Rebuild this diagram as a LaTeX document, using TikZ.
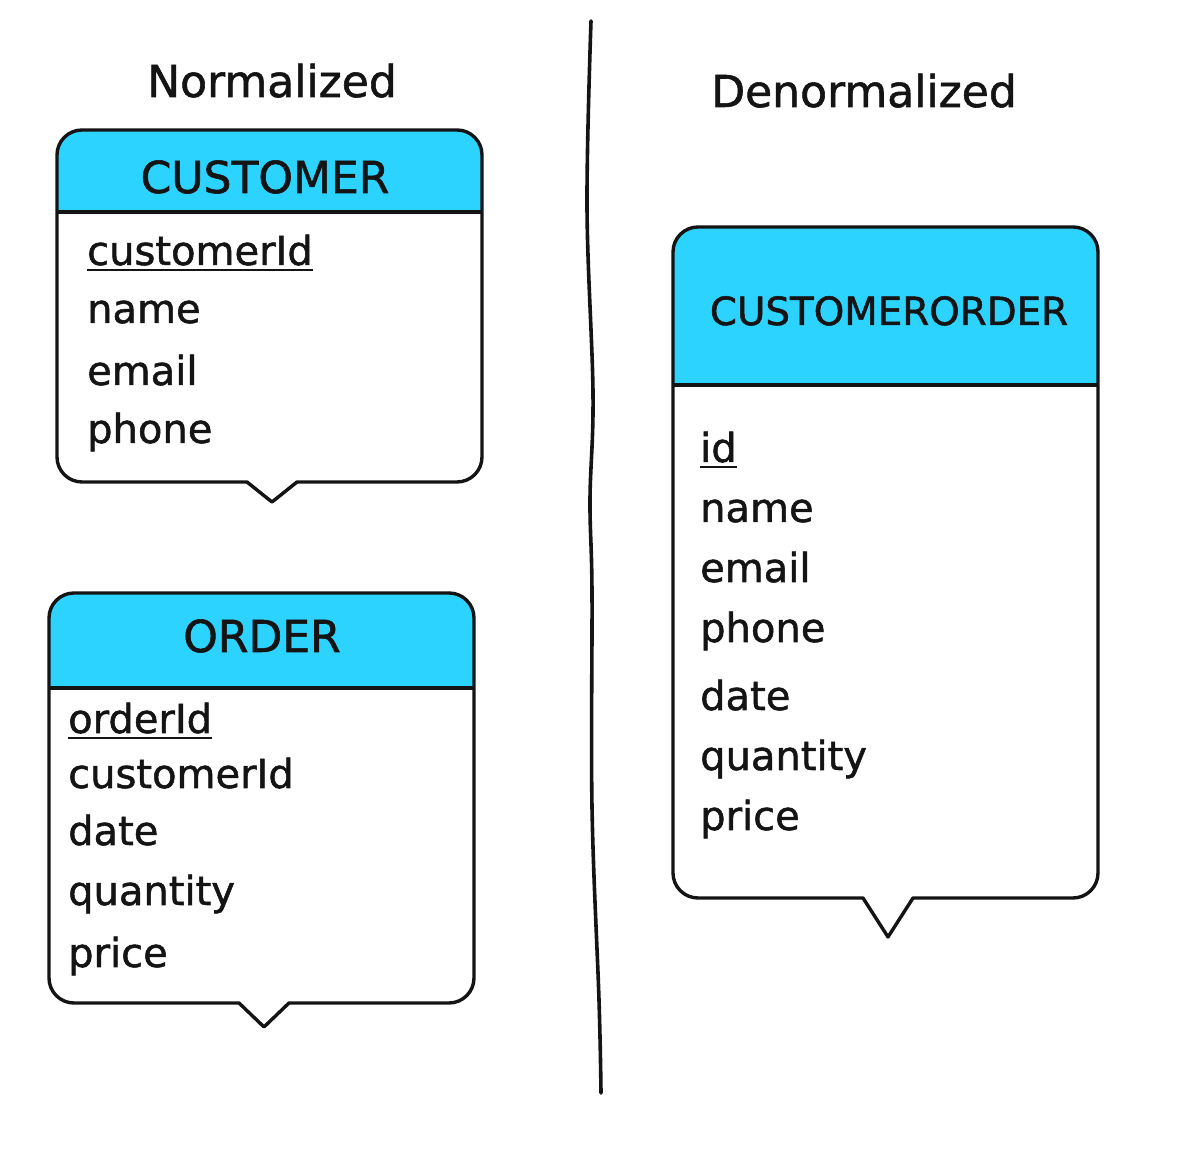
\documentclass[tikz,border=0pt]{standalone}
\usepackage{fontspec}
\setmainfont{DejaVu Sans}[FakeBold=1.3]
\definecolor{hdr}{RGB}{45,211,255}
\definecolor{ink}{RGB}{20,20,20}
\tikzset{
  boxline/.style={draw=ink, line width=3.4pt, line join=round},
  field/.style={anchor=base west, inner sep=0pt, text=ink, font=\fontsize{40}{48}\selectfont},
  hdrtext/.style={anchor=base, inner sep=0pt, text=ink, font=\fontsize{44}{52}\selectfont},
  titletext/.style={anchor=base, inner sep=0pt, text=ink, font=\fontsize{44}{52}\selectfont},
  uline/.style={draw=ink, line width=2.6pt},
}
% L R T Hb B tipx tipY
\newcommand{\erbox}[7]{%
  \fill[hdr] (#1,#4) -- (#1,{#3-25}) arc (180:90:25pt) -- ({#2-25},#3) arc (90:0:25pt) -- (#2,#4) -- cycle;
  \draw[boxline] (#1,#4) -- (#2,#4);
  \draw[boxline] (#1,{#3-25}) arc (180:90:25pt) -- ({#2-25},#3) arc (90:0:25pt)
     -- (#2,{#5+25}) arc (0:-90:25pt) -- ({#6+25},#5) -- (#6,#7) -- ({#6-25},#5)
     -- ({#1+25},#5) arc (270:180:25pt) -- cycle;
}
\begin{document}
\begin{tikzpicture}[x=1pt,y=1pt]
\fill[white] (0,0) rectangle (1193,1174);
\useasboundingbox (0,0) rectangle (1193,1174);

% titles
\node[titletext] (tnorm) at (272,1077) {Normalized};
\node[titletext] (tden) at (864,1067) {Denormalized};

% divider
\draw[ink, line width=3.6pt, line cap=round] plot[smooth, tension=0.6] coordinates
  {(591,1153) (587,967) (593,781) (590,674) (592,581) (592,367) (599,174) (601,81)};

% CUSTOMER
\erbox{57}{482}{1044}{962}{692}{272}{672}
\node[hdrtext] (hcust) at (265,981) {CUSTOMER};
\node[field] (c1) at (87,909) {customerId};
\draw[uline] ([yshift=-5pt]c1.base west) -- ([yshift=-5pt]c1.base east);
\node[field] (c2) at (87,851) {name};
\node[field] (c3) at (87,789) {email};
\node[field] (c4) at (87,731) {phone};

% ORDER
\erbox{49}{474}{581}{486}{171}{264}{147}
\node[hdrtext] (hord) at (262,522) {ORDER};
\node[field] (o1) at (68,441) {orderId};
\draw[uline] ([yshift=-5pt]o1.base west) -- ([yshift=-5pt]o1.base east);
\node[field] (o2) at (68,386) {customerId};
\node[field] (o3) at (68,329) {date};
\node[field] (o4) at (68,269) {quantity};
\node[field] (o5) at (68,207) {price};

% CUSTOMERORDER
\erbox{673}{1098}{947}{789}{276}{888}{237}
\node[hdrtext, font=\fontsize{38.8}{46}\selectfont] (hco) at (889,849) {CUSTOMERORDER};
\node[field] (d1) at (700,712) {id};
\draw[uline] ([yshift=-5pt]d1.base west) -- ([yshift=-5pt]d1.base east);
\node[field] (d2) at (700,652) {name};
\node[field] (d3) at (700,592) {email};
\node[field] (d4) at (700,532) {phone};
\node[field] (d5) at (700,464) {date};
\node[field] (d6) at (700,404) {quantity};
\node[field] (d7) at (700,344) {price};
\end{tikzpicture}
\end{document}
